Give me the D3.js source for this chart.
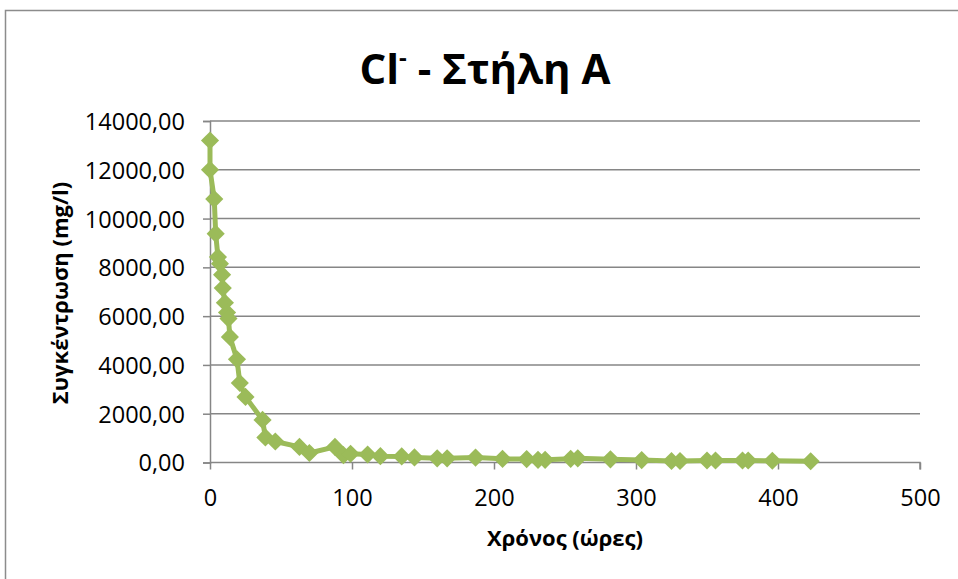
<!DOCTYPE html>
<html>
<head>
<meta charset="utf-8">
<script src="https://cdn.jsdelivr.net/npm/d3@7"></script>
<style>
  html, body { margin: 0; padding: 0; background: #fff; }
  svg { display: block; }
</style>
</head>
<body>
<svg id="chart" width="958" height="579"></svg>
<script>
// Chloride concentration over time, column A
const hours = [0, 0, 3, 4, 5.6, 7, 8.5, 9, 10.5, 12, 13, 14, 19, 21, 25, 37, 39, 46,
  63, 70, 88, 94, 99, 111, 120, 135, 144, 160, 167, 187, 206, 223, 231, 236, 254, 259,
  282, 304, 325, 331, 350, 356, 375, 379, 396, 423];
const concentration = [13200, 12000, 10800, 9380, 8420, 8150, 7700, 7150, 6550, 6150, 5900, 5150,
  4230, 3260, 2690, 1745, 1030, 860,
  640, 390, 640, 300, 360, 330, 260, 250, 210, 170, 170, 200, 150, 140, 110, 110, 150, 170,
  130, 100, 60, 60, 80, 80, 80, 80, 70, 50];
const xTicks = [0, 100, 200, 300, 400, 500];
const yTicks = [0, 2000, 4000, 6000, 8000, 10000, 12000, 14000];

const titleMain = "Cl";
const titleSup = "-";
const titleRest = " - Στήλη Α";
const xTitle = "Χρόνος (ώρες)";
const yTitle = "Συγκέντρωση (mg/l)";

const svg = d3.select("#chart");
const font = "'Open Sans', 'DejaVu Sans', sans-serif";
const green = "#9BBB59";
const gridColor = "#868686";

const plot = { left: 210, right: 920, top: 121, bottom: 462.5 };
const x = d3.scaleLinear().domain([0, 500]).range([plot.left, plot.right]);
const y = d3.scaleLinear().domain([0, 14000]).range([plot.bottom, plot.top]);

// chart frame (left and top edges visible)
svg.append("path")
  .attr("d", "M5.5,585 V10.5 H965")
  .attr("fill", "none").attr("stroke", "#8c8c8c").attr("stroke-width", 1.5);

// horizontal gridlines + y axis
const yAxis = d3.axisLeft(y).tickValues(yTicks).tickSize(7)
  .tickFormat(d => d3.format(".2f")(d).replace(".", ","));
const gy = svg.append("g").attr("transform", `translate(${plot.left},0)`).call(yAxis);
gy.select(".domain").attr("stroke", gridColor).attr("stroke-width", 1.5);
gy.selectAll(".tick line").attr("stroke", gridColor).attr("stroke-width", 1.5);
gy.selectAll(".tick text").attr("font-family", font).attr("font-size", 23.5)
  .attr("fill", "#000").attr("x", -25).attr("dy", "0.36em");

svg.append("g").selectAll("line").data(yTicks.filter(d => d > 0)).join("line")
  .attr("x1", plot.left).attr("x2", plot.right)
  .attr("y1", d => y(d)).attr("y2", d => y(d))
  .attr("stroke", gridColor).attr("stroke-width", 1.5);

// x axis
const xAxis = d3.axisBottom(x).tickValues(xTicks).tickSize(7).tickFormat(d3.format("d"));
const gx = svg.append("g").attr("transform", `translate(0,${plot.bottom})`).call(xAxis);
gx.select(".domain").attr("stroke", gridColor).attr("stroke-width", 1.5)
  .attr("d", `M${plot.left},0H${plot.right}V7`);
gx.selectAll(".tick line").attr("stroke", gridColor).attr("stroke-width", 1.5);
gx.selectAll(".tick text").attr("font-family", font).attr("font-size", 23.5)
  .attr("fill", "#000").attr("y", 27).attr("dy", "0.71em");

// series line
const pts = hours.map((h, i) => [h, concentration[i]]);
svg.append("path").datum(pts)
  .attr("fill", "none").attr("stroke", green).attr("stroke-width", 5)
  .attr("stroke-linejoin", "round")
  .attr("d", d3.line().x(d => x(d[0])).y(d => y(d[1])));

// diamond markers
const diamond = d3.symbol().type(d3.symbolDiamond2).size(210);
svg.append("g").selectAll("path").data(pts).join("path")
  .attr("transform", d => `translate(${x(d[0])},${y(d[1])})`)
  .attr("d", diamond)
  .attr("fill", green);

// title
const title = svg.append("text")
  .attr("x", 485).attr("y", 84)
  .attr("text-anchor", "middle")
  .attr("font-family", font).attr("font-weight", "bold").attr("font-size", 42)
  .attr("fill", "#000");
title.append("tspan").text(titleMain);
title.append("tspan").attr("font-size", 24).attr("dy", -18).text(titleSup);
title.append("tspan").attr("dy", 18).text(titleRest);

// axis titles
svg.append("text")
  .attr("x", 565).attr("y", 546)
  .attr("text-anchor", "middle")
  .attr("font-family", font).attr("font-weight", "bold").attr("font-size", 22)
  .attr("fill", "#000").text(xTitle);

svg.append("text")
  .attr("transform", "translate(68,293) rotate(-90)")
  .attr("text-anchor", "middle")
  .attr("font-family", font).attr("font-weight", "bold").attr("font-size", 22)
  .attr("fill", "#000").text(yTitle);
</script>
</body>
</html>
